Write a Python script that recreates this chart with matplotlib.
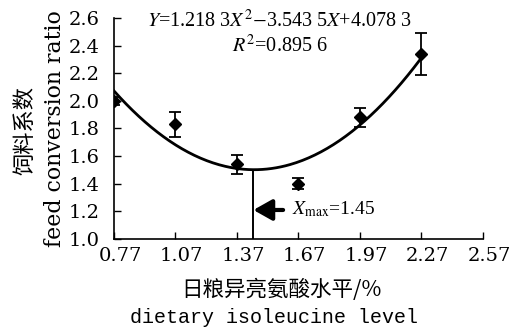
import numpy as np
import matplotlib
matplotlib.use("Agg")
import matplotlib.pyplot as plt
from matplotlib.transforms import ScaledTranslation

# 数据
levels = [0.77, 1.07, 1.37, 1.67, 1.97, 2.27]
fcr = [2.00, 1.83, 1.54, 1.40, 1.88, 2.34]
fcr_err = [0.03, 0.09, 0.07, 0.04, 0.07, 0.15]
coef = [1.2183, -3.5435, 4.0783]
x_opt = 1.45
x_ticks = [0.77, 1.07, 1.37, 1.67, 1.97, 2.27, 2.57]
y_ticks = [1.0, 1.2, 1.4, 1.6, 1.8, 2.0, 2.2, 2.4, 2.6]

plt.rcParams['mathtext.fontset'] = 'stix'
times = ['Liberation Serif', 'DejaVu Serif']
serif = ['DejaVu Serif']
cjk = ['Noto Sans CJK SC', 'DejaVu Sans']
mono = ['Liberation Mono', 'DejaVu Sans Mono']

fig = plt.figure(figsize=(5.1, 3.31), dpi=100)
ax = fig.add_axes([0.2235, 0.278, 0.7235, 0.6676])

xs = np.linspace(levels[0], levels[-1], 200)
ax.plot(xs, np.polyval(coef, xs), color='black', lw=2.0, zorder=2)
ax.errorbar(levels, fcr, yerr=fcr_err, fmt='D', color='black', ms=6,
            capsize=4.5, elinewidth=1.3, capthick=1.3, zorder=3)

# 最适水平
ax.plot([x_opt, x_opt], [1.0, np.polyval(coef, x_opt)], color='black', lw=1.4)
ax.annotate('', xy=(x_opt, 1.21), xytext=(1.595, 1.21),
            arrowprops=dict(arrowstyle='-|>,head_length=0.8,head_width=0.45',
                            color='black', lw=3, mutation_scale=14,
                            shrinkA=0, shrinkB=0))
ax.text(1.64, 1.215, r'$X_{\rm max}$=1.45', fontsize=14,
        family=times, va='center', ha='left')

ax.text(0.93, 2.575, r'$Y$=1.218 3$X^2$$-$3.543 5$X$+4.078 3', fontsize=14.5,
        family=times, ha='left', va='center')
ax.text(1.346, 2.395, r'$R^2$=0.895 6', fontsize=14.5, family=times,
        ha='left', va='center')

ax.set_xlim(0.77, 2.57)
ax.set_ylim(1.0, 2.6)
ax.set_xticks(x_ticks)
ax.set_yticks(y_ticks)
ax.set_xticklabels([f'{v:.2f}' for v in x_ticks], family=serif, fontsize=14)
ax.set_yticklabels([f'{v:.1f}' for v in y_ticks], family=serif, fontsize=14)
ax.tick_params(direction='in', length=5, width=1)
ax.tick_params(axis='y', pad=10)
ax.tick_params(axis='x', pad=6)
shift = ScaledTranslation(0.06, 0, fig.dpi_scale_trans)
for lbl in ax.get_xticklabels():
    lbl.set_transform(lbl.get_transform() + shift)
for s in ['top', 'right']:
    ax.spines[s].set_visible(False)
for s in ['left', 'bottom']:
    ax.spines[s].set_linewidth(1.2)

fig.text(0.552, 0.124, '日粮异亮氨酸水平/%', family=cjk, fontsize=15.5,
         ha='center', va='center')
fig.text(0.537, 0.042, 'dietary isoleucine level', family=mono, fontsize=14.4,
         ha='center', va='center')
fig.text(0.049, 0.607, '饲料系数', family=cjk, fontsize=16, rotation=90,
         ha='center', va='center')
fig.text(0.108, 0.61, 'feed conversion ratio', family=serif, fontsize=15.8,
         rotation=90, ha='center', va='center')

fig.savefig('out.png', dpi=100)
